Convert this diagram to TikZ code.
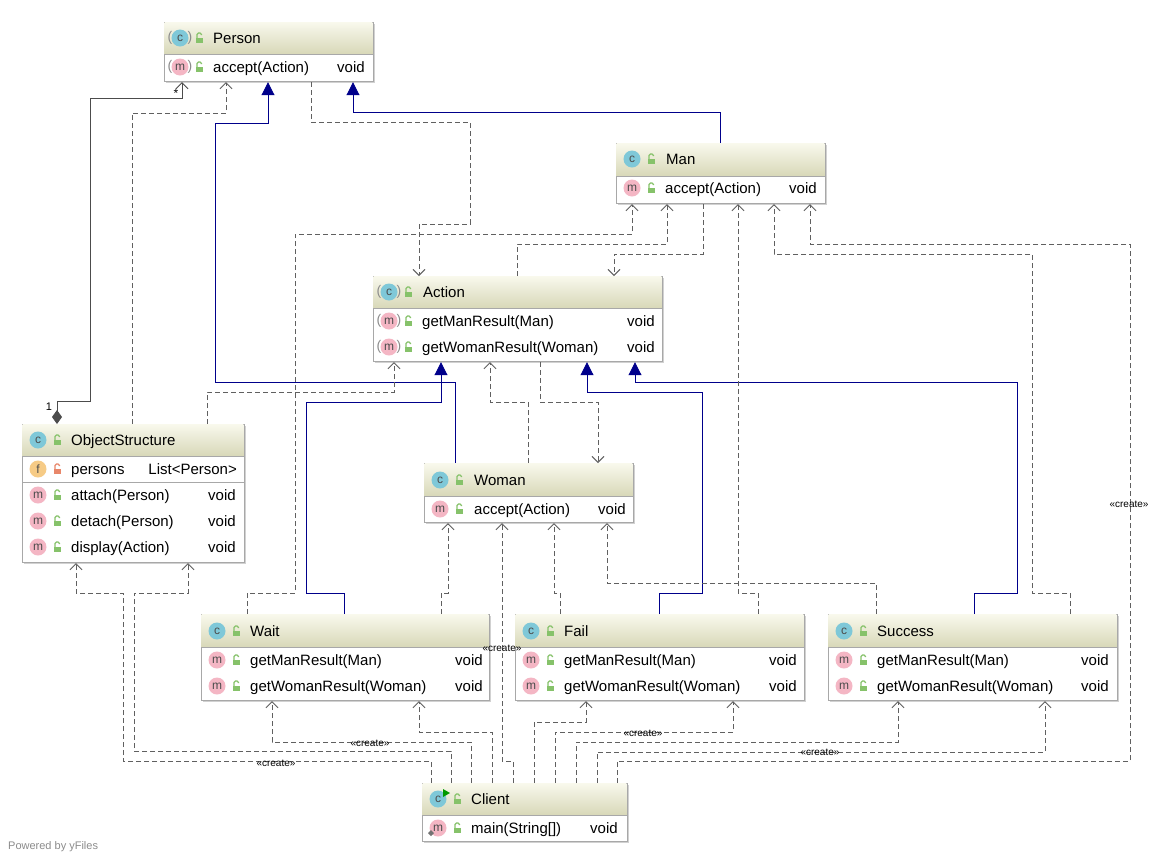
\documentclass[tikz,border=0pt]{standalone}
\usepackage{fontspec}
\setmainfont{Liberation Sans}
\usetikzlibrary{arrows.meta}
\definecolor{bord}{HTML}{A8A8A8}
\definecolor{htop}{HTML}{F8F8EC}
\definecolor{hbot}{HTML}{D8D8B8}
\definecolor{cic}{HTML}{7FC8D8}
\definecolor{mic}{HTML}{F4B6C4}
\definecolor{fic}{HTML}{F6CB86}
\definecolor{lockg}{HTML}{86C26A}
\definecolor{lockr}{HTML}{E8876A}
\definecolor{depc}{HTML}{606060}
\definecolor{navyc}{HTML}{00008B}
\newcommand\clsbox[6]{%
  \fill[black!18] (#2+2,#3+2) rectangle (#4+2,#5+2);
  \node[draw=bord, fill=white, line width=1.2, anchor=north west, inner sep=0,
        minimum width=#4-#2, minimum height=#5-#3] (#1) at (#2,#3) {};
  \shade[top color=htop, bottom color=hbot] (#2+0.6,#3+0.6) rectangle (#4-0.6,#6);
  \draw[bord, line width=1] (#2,#6) -- (#4,#6);}
\newcommand\ico[4]{\fill[#3] (#1,#2) circle (8.5);
  \node[text=black!70, font=\fontsize{12}{12}\selectfont] at (#1,#2) {#4};}
\newcommand\aico[4]{\ico{#1}{#2}{#3}{#4}%
  \node[text=black!45, font=\fontsize{14}{14}\selectfont] at (#1-10,#2) {(};
  \node[text=black!45, font=\fontsize{14}{14}\selectfont] at (#1+10,#2) {)};}
\newcommand\lk[3]{\fill[#3] (#1-3,#2) rectangle (#1+4,#2+5);
  \draw[#3, line width=1.3, rounded corners=1.5] (#1-2,#2) -- (#1-2,#2-5) -- (#1+2.5,#2-5) -- (#1+2.5,#2-3);}
\newcommand\txt[3]{\node[anchor=base west, inner sep=0] at (#1,#2+5.5) {#3};}
\tikzset{
  every node/.style={font=\fontsize{15}{17}\selectfont},
  dep/.style={depc, line width=0.9, dash pattern=on 5pt off 3pt, -{Straight Barb[length=6,width=12,line width=0.9]}},
  inh/.style={navyc, line width=0.9, -{Triangle[length=13,width=13]}},
  agg/.style={black!70, line width=0.9, {Diamond[length=14,width=10]}-{Straight Barb[length=6,width=12]}},
  lbl/.style={font=\fontsize{10}{11}\selectfont, inner sep=0}
}
\begin{document}
\begin{tikzpicture}[x=1pt,y=-1pt]
\useasboundingbox[fill=white] (0,0) rectangle (1176,863);
% ---------- classes
\clsbox{P}{164}{22}{373}{81}{54}
\aico{180}{38}{cic}{c}\lk{199}{38}{lockg}\txt{213}{38}{Person}
\aico{180}{67}{mic}{m}\lk{199}{67}{lockg}\txt{213}{67}{accept(Action)}\txt{337}{67}{void}

\clsbox{M}{616}{143}{825}{203}{176}
\ico{632}{159}{cic}{c}\lk{651}{159}{lockg}\txt{666}{159}{Man}
\ico{632}{188}{mic}{m}\lk{651}{188}{lockg}\txt{665}{188}{accept(Action)}\txt{789}{188}{void}

\clsbox{A}{373}{276}{662}{361}{308}
\aico{389}{292}{cic}{c}\lk{408}{292}{lockg}\txt{423}{292}{Action}
\aico{389}{321}{mic}{m}\lk{408}{321}{lockg}\txt{422}{321}{getManResult(Man)}\txt{627}{321}{void}
\aico{389}{347}{mic}{m}\lk{408}{347}{lockg}\txt{422}{347}{getWomanResult(Woman)}\txt{627}{347}{void}

\clsbox{OS}{22}{424}{244}{562}{456}
\ico{38}{440}{cic}{c}\lk{57}{440}{lockg}\txt{71}{440}{ObjectStructure}
\ico{38}{469}{fic}{f}\lk{57}{469}{lockr}\txt{71}{469}{persons}\node[anchor=base east,inner sep=0] at (237,474.5) {List<Person>};
\draw[bord, line width=1] (22,482) -- (244,482);
\ico{38}{495}{mic}{m}\lk{57}{495}{lockg}\txt{71}{495}{attach(Person)}\txt{208}{495}{void}
\ico{38}{521}{mic}{m}\lk{57}{521}{lockg}\txt{71}{521}{detach(Person)}\txt{208}{521}{void}
\ico{38}{547}{mic}{m}\lk{57}{547}{lockg}\txt{71}{547}{display(Action)}\txt{208}{547}{void}

\clsbox{Wo}{424}{463}{633}{522}{496}
\ico{440}{480}{cic}{c}\lk{459}{480}{lockg}\txt{474}{480}{Woman}
\ico{440}{509}{mic}{m}\lk{459}{509}{lockg}\txt{474}{509}{accept(Action)}\txt{598}{509}{void}

\clsbox{W}{201}{614}{489}{700}{647}
\ico{217}{631}{cic}{c}\lk{236}{631}{lockg}\txt{250}{631}{Wait}
\ico{217}{660}{mic}{m}\lk{236}{660}{lockg}\txt{250}{660}{getManResult(Man)}\txt{455}{660}{void}
\ico{217}{686}{mic}{m}\lk{236}{686}{lockg}\txt{250}{686}{getWomanResult(Woman)}\txt{455}{686}{void}

\clsbox{F}{515}{614}{804}{700}{647}
\ico{531}{631}{cic}{c}\lk{550}{631}{lockg}\txt{564}{631}{Fail}
\ico{531}{660}{mic}{m}\lk{550}{660}{lockg}\txt{564}{660}{getManResult(Man)}\txt{769}{660}{void}
\ico{531}{686}{mic}{m}\lk{550}{686}{lockg}\txt{564}{686}{getWomanResult(Woman)}\txt{769}{686}{void}

\clsbox{S}{828}{614}{1117}{700}{647}
\ico{844}{631}{cic}{c}\lk{863}{631}{lockg}\txt{877}{631}{Success}
\ico{844}{660}{mic}{m}\lk{863}{660}{lockg}\txt{877}{660}{getManResult(Man)}\txt{1081}{660}{void}
\ico{844}{686}{mic}{m}\lk{863}{686}{lockg}\txt{877}{686}{getWomanResult(Woman)}\txt{1081}{686}{void}

\clsbox{C}{422}{783}{627}{841}{815}
\ico{438}{799}{cic}{c}\fill[green!60!black] (443,789) -- (450,793) -- (443,797) -- cycle;
\lk{457}{799}{lockg}\txt{471}{799}{Client}
\ico{438}{828}{mic}{m}\fill[black!55] (431,830) -- (434,833) -- (431,836) -- (428,833) -- cycle;
\lk{457}{828}{lockg}\txt{471}{828}{main(String[])}\txt{590}{828}{void}

% ---------- aggregation
\draw[agg] (57,0 |- OS.north) -- (57,401) -- (90,401) -- (90,98) -- (182,98) -- (182,0 |- P.south);
\node[lbl, font=\fontsize{11}{12}\selectfont] at (49,407) {1};
\node[lbl, font=\fontsize{12}{12}\selectfont] at (176,93) {*};

% ---------- inheritance
\draw[inh] (455,0 |- Wo.north) -- (455,382) -- (215,382) -- (215,123) -- (268,123) -- (268,0 |- P.south);
\draw[inh] (720,0 |- M.north) -- (720,112) -- (353,112) -- (353,0 |- P.south);
\draw[inh] (344,0 |- W.north) -- (344,593) -- (306,593) -- (306,402) -- (441,402) -- (441,0 |- A.south);
\draw[inh] (659,0 |- F.north) -- (659,593) -- (702,593) -- (702,392) -- (587,392) -- (587,0 |- A.south);
\draw[inh] (974,0 |- S.north) -- (974,593) -- (1017,593) -- (1017,382) -- (635,382) -- (635,0 |- A.south);

% ---------- dependencies
\draw[dep] (132,0 |- OS.north) -- (132,113) -- (226,113) -- (226,0 |- P.south);
\draw[dep] (311,0 |- P.south) -- (311,122) -- (470,122) -- (470,224) -- (419,224) -- (419,0 |- A.north);
\draw[dep] (247,0 |- W.north) -- (247,593) -- (295,593) -- (295,234) -- (632,234) -- (632,0 |- M.south);
\draw[dep] (517,0 |- A.north) -- (517,244) -- (667,244) -- (667,0 |- M.south);
\draw[dep] (703,0 |- M.south) -- (703,254) -- (614,254) -- (614,0 |- A.north);
\draw[dep] (758,0 |- F.north) -- (758,593) -- (738,593) -- (738,0 |- M.south);
\draw[dep] (1070,0 |- S.north) -- (1070,593) -- (1032,593) -- (1032,254) -- (774,254) -- (774,0 |- M.south);
\draw[dep] (617,0 |- C.north) -- (617,761) -- (1130,761) -- (1130,244) -- (810,244) -- (810,0 |- M.south);
\draw[dep] (207,0 |- OS.north) -- (207,392) -- (394,392) -- (394,0 |- A.south);
\draw[dep] (528,0 |- Wo.north) -- (528,402) -- (490,402) -- (490,0 |- A.south);
\draw[dep] (540,0 |- A.south) -- (540,402) -- (598,402) -- (598,0 |- Wo.north);
\draw[dep] (441,0 |- W.north) -- (441,593) -- (448,593) -- (448,0 |- Wo.south);
\draw[dep] (560,0 |- F.north) -- (560,593) -- (554,593) -- (554,0 |- Wo.south);
\draw[dep] (876,0 |- S.north) -- (876,583) -- (607,583) -- (607,0 |- Wo.south);
\draw[dep] (513,0 |- C.north) -- (513,761) -- (502,761) -- (502,0 |- Wo.south);
\draw[dep] (431,0 |- C.north) -- (431,761) -- (123,761) -- (123,593) -- (76,593) -- (76,0 |- OS.south);
\draw[dep] (451,0 |- C.north) -- (451,751) -- (134,751) -- (134,593) -- (188,593) -- (188,0 |- OS.south);
\draw[dep] (471,0 |- C.north) -- (471,742) -- (272,742) -- (272,0 |- W.south);
\draw[dep] (492,0 |- C.north) -- (492,732) -- (419,732) -- (419,0 |- W.south);
\draw[dep] (534,0 |- C.north) -- (534,722) -- (586,722) -- (586,0 |- F.south);
\draw[dep] (555,0 |- C.north) -- (555,732) -- (733,732) -- (733,0 |- F.south);
\draw[dep] (576,0 |- C.north) -- (576,742) -- (898,742) -- (898,0 |- S.south);
\draw[dep] (597,0 |- C.north) -- (597,752) -- (1045,752) -- (1045,0 |- S.south);

% ---------- labels
\node[lbl] at (1129,504) {«create»};
\node[lbl] at (502,648) {«create»};
\node[lbl] at (276,763) {«create»};
\node[lbl] at (370,743) {«create»};
\node[lbl] at (643,733) {«create»};
\node[lbl] at (820,752) {«create»};
\node[anchor=west, inner sep=0, text=black!45, font=\fontsize{11}{12}\selectfont] at (8,847) {Powered by yFiles};
\end{tikzpicture}
\end{document}
